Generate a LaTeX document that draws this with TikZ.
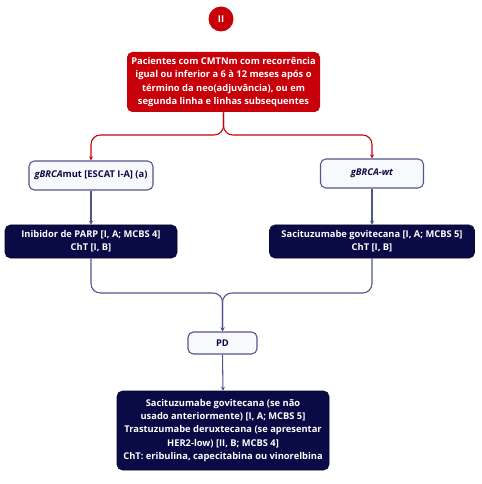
\documentclass[tikz,border=0pt]{standalone}
\usepackage{fontspec}
\setmainfont{Open Sans}
\usetikzlibrary{positioning,arrows.meta}
\definecolor{alert}{HTML}{C8000A}
\definecolor{navy}{HTML}{0A0A46}
\definecolor{edge}{HTML}{50558A}
\definecolor{pale}{HTML}{F7F9FC}

\begin{document}
\begin{tikzpicture}[x=0.75pt, y=-0.75pt, font=\fontsize{7}{10}\selectfont\bfseries,
  box/.style={rounded corners=4pt, align=center, inner sep=0pt},
  redbox/.style={box, fill=alert, text=white},
  darkbox/.style={box, fill=navy, draw=navy!60!black, text=white},
  palebox/.style={box, fill=pale, draw=edge, line width=0.8pt, text=navy},
  redline/.style={draw=alert, line width=0.8pt, rounded corners=7pt, -{Stealth[length=3pt,width=3pt]}},
  navyline/.style={draw=edge, line width=0.8pt, rounded corners=7pt, -{Stealth[length=3pt,width=3pt]}}]
\useasboundingbox (0,0) rectangle (481,484);
\node[circle, fill=alert, text=white, minimum size=18.75pt, inner sep=0pt] (badge) at (221,19) {II};
\node[redbox, minimum width=144.75pt, minimum height=45pt] (patients) at (223.5,82)
  {Pacientes com CMTNm com recorrência\\igual ou inferior a 6 à 12 meses após o\\término da neo(adjuvância), ou em\\segunda linha e linhas subsequentes};
% branches
\node[palebox, minimum width=93pt, minimum height=21.75pt] (mut) at (91,175.5) {\textit{gBRCA}mut [ESCAT I-A] (a)};
\node[palebox, minimum width=77.25pt, minimum height=21.75pt] (wt) at (372,173.5) {\textit{gBRCA-wt}};
\node[darkbox, minimum width=129pt, minimum height=24.75pt] (parp) at (91,241.5) {Inibidor de PARP [I, A; MCBS 4]\\ChT [I, B]};
\node[darkbox, minimum width=153.75pt, minimum height=24.75pt] (saci) at (372,241.5) {Sacituzumabe govitecana [I, A; MCBS 5]\\ChT [I, B]};
\node[palebox, minimum width=51.75pt, minimum height=16.5pt] (pd) at (222.5,343) {PD};
\node[darkbox, minimum width=159pt, minimum height=59.25pt] (later) at (223,430.5)
  {Sacituzumabe govitecana (se não\\usado anteriormente) [I, A; MCBS 5]\\Trastuzumabe deruxtecana (se apresentar\\HER2-low) [II, B; MCBS 4]\\ChT: eribulina, capecitabina ou vinorelbina};
% connectors
\coordinate (split) at (223.5,135);
\coordinate (join) at (222.5,293);
\draw[redline] (patients.south) -- (split) -| (mut.north);
\draw[redline] (patients.south) -- (split) -| (wt.north);
\draw[navyline] (mut.south) -- (parp.north);
\draw[navyline] (wt.south) -- (saci.north);
\draw[navyline] (parp.south) |- (join) -- (pd.north);
\draw[navyline] (saci.south) |- (join) -- (pd.north);
\draw[navyline] (pd.south) -- (later.north);
\end{tikzpicture}
\end{document}
